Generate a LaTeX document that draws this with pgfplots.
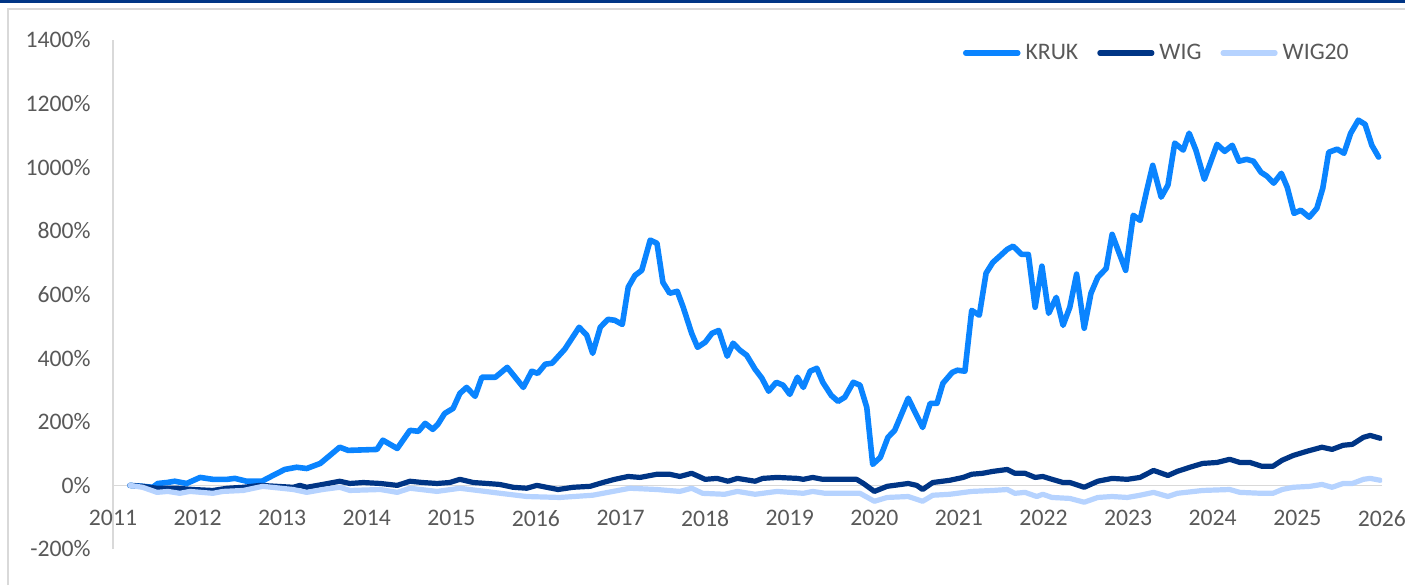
\documentclass[border=0pt]{standalone}
\usepackage{pgfplots}
\pgfplotsset{compat=1.18}
\usepackage{fontspec}
\setmainfont{Carlito}
\definecolor{kruk}{HTML}{0A84FF}
\definecolor{wig}{HTML}{003585}
\definecolor{wigtw}{HTML}{B6D3FF}
\definecolor{txt}{HTML}{595959}
\definecolor{axgray}{HTML}{D9D9D9}
\newcommand\chartfont{\fontsize{11.85pt}{14pt}\selectfont}

\begin{document}
\begin{tikzpicture}
\useasboundingbox (0,0) rectangle (702.5pt,292.5pt);
% frame: navy strip on top, light grey border
\fill[wig] (0,291.2pt) rectangle (702.5pt,292.5pt);
\draw[axgray, line width=0.9pt] (4pt,0) -- (4pt,288pt) -- (702.5pt,288pt);
\begin{axis}[
    at={(56.5pt,18pt)}, anchor=south west,
    scale only axis, width=634.5pt, height=254.5pt,
    xmin=2011, xmax=2026, ymin=-200, ymax=1400,
    axis y line=left, axis x line=middle,
    axis line style={-, draw=axgray, line width=0.8pt},
    hide obscured x ticks=false, hide obscured y ticks=false,
    major tick length=0pt,
    scaled ticks=false,
    xtick={2011,...,2026},
    ytick={-200,0,...,1400},
    yticklabels={-200\%,0\%,200\%,400\%,600\%,800\%,1000\%,1200\%,1400\%},
    /pgf/number format/assume math mode=true,
    xticklabel style={/pgf/number format/1000 sep={}, anchor=north, inner sep=0pt, yshift=-12.25pt},
    yticklabel style={anchor=east, inner sep=0pt, xshift=-11pt},
    every tick label/.append style={font=\chartfont, text=txt},
    legend style={at={(axis description cs:0.6698,0.9745)}, anchor=west,
        draw=none, fill=none, inner sep=0pt, outer sep=0pt,
        font=\chartfont, text=txt, legend columns=3,
        nodes={inner sep=0pt},
        /tikz/every odd column/.style={column sep=2.5pt},
        /tikz/every even column/.style={column sep=9.5pt}},
    legend image code/.code={\draw[#1, line cap=round] (0pt,0pt) -- (26pt,0pt);},
    every axis plot/.append style={line join=round, line cap=round},
]
% KRUK
\addplot[color=kruk, line width=2.8pt] coordinates {
(2011.20,0)(2011.35,-3)(2011.47,-6)(2011.53,6)(2011.64,9)(2011.73,13)(2011.87,6)(2012.03,25)
(2012.18,19)(2012.35,19)(2012.44,22)(2012.58,13)(2012.76,13)(2012.89,31)(2013.03,50)(2013.17,57)
(2013.29,53)(2013.45,69)(2013.68,120)(2013.78,110)(2014.12,113)(2014.19,142)(2014.36,116)(2014.51,173)
(2014.61,170)(2014.69,195)(2014.78,176)(2014.84,192)(2014.92,226)(2015.02,242)(2015.10,289)(2015.18,308)
(2015.28,280)(2015.36,340)(2015.52,340)(2015.66,371)(2015.85,308)(2015.95,359)(2016.02,352)(2016.11,381)
(2016.19,384)(2016.34,428)(2016.51,497)(2016.60,472)(2016.67,415)(2016.76,497)(2016.85,522)(2016.93,519)
(2017.02,506)(2017.09,623)(2017.17,660)(2017.25,676)(2017.35,771)(2017.43,761)(2017.50,638)(2017.58,604)
(2017.67,610)(2017.74,560)(2017.84,478)(2017.91,434)(2018.00,450)(2018.08,478)(2018.16,487)(2018.26,406)
(2018.33,447)(2018.41,425)(2018.49,409)(2018.59,365)(2018.67,337)(2018.75,296)(2018.84,324)(2018.92,315)
(2019.00,286)(2019.09,340)(2019.16,308)(2019.24,359)(2019.32,368)(2019.39,324)(2019.49,283)(2019.57,264)
(2019.65,277)(2019.75,324)(2019.83,315)(2019.91,245)(2019.98,66)(2020.07,88)(2020.16,151)(2020.24,173)
(2020.40,274)(2020.48,230)(2020.57,182)(2020.66,258)(2020.74,258)(2020.81,321)(2020.92,355)(2020.98,362)
(2021.07,359)(2021.15,550)(2021.24,535)(2021.32,667)(2021.40,701)(2021.48,720)(2021.57,742)(2021.64,752)
(2021.74,726)(2021.82,726)(2021.90,560)(2021.98,689)(2022.06,541)(2022.15,591)(2022.23,503)(2022.31,560)
(2022.39,664)(2022.48,494)(2022.56,604)(2022.64,654)(2022.74,682)(2022.81,789)(2022.97,676)(2023.06,849)
(2023.14,833)(2023.22,928)(2023.29,1006)(2023.39,906)(2023.47,944)(2023.55,1076)(2023.65,1054)(2023.72,1107)
(2023.80,1054)(2023.90,962)(2023.97,1013)(2024.05,1072)(2024.14,1050)(2024.23,1069)(2024.31,1019)(2024.40,1025)
(2024.48,1019)(2024.57,984)(2024.64,972)(2024.72,950)(2024.81,981)(2024.88,937)(2024.96,855)(2025.04,865)
(2025.14,843)(2025.23,871)(2025.30,934)(2025.37,1047)(2025.47,1057)(2025.55,1044)(2025.63,1107)(2025.72,1148)
(2025.80,1135)(2025.88,1069)(2025.96,1032)
};
\addlegendentry{KRUK}
% WIG
\addplot[color=wig, line width=2.6pt] coordinates {
(2011.20,0)(2011.35,-3)(2011.52,-9)(2011.76,-9)(2011.95,-13)(2012.18,-16)(2012.35,-9)(2012.54,-6)
(2012.74,0)(2012.94,-3)(2013.13,-6)(2013.21,0)(2013.29,-6)(2013.48,3)(2013.68,13)(2013.80,6)
(2013.96,9)(2014.16,6)(2014.36,0)(2014.51,13)(2014.66,9)(2014.83,6)(2014.98,9)(2015.10,19)
(2015.26,9)(2015.42,6)(2015.57,3)(2015.73,-6)(2015.89,-9)(2016.01,0)(2016.26,-13)(2016.44,-6)
(2016.64,-3)(2016.79,9)(2016.93,19)(2017.09,28)(2017.23,25)(2017.43,35)(2017.58,35)(2017.70,28)
(2017.84,38)(2018.00,19)(2018.14,22)(2018.27,13)(2018.38,22)(2018.59,13)(2018.68,22)(2018.85,25)
(2019.09,22)(2019.16,19)(2019.27,25)(2019.39,19)(2019.79,19)(2019.87,6)(2020.00,-19)(2020.15,-3)
(2020.40,6)(2020.50,0)(2020.57,-13)(2020.69,9)(2020.89,16)(2021.05,25)(2021.15,35)(2021.28,38)
(2021.40,44)(2021.57,50)(2021.66,38)(2021.78,38)(2021.90,25)(2021.99,28)(2022.10,19)(2022.23,9)
(2022.31,9)(2022.48,-6)(2022.64,13)(2022.81,22)(2022.99,19)(2023.14,25)(2023.30,47)(2023.47,31)
(2023.58,44)(2023.73,57)(2023.88,69)(2024.05,72)(2024.20,82)(2024.32,72)(2024.44,72)(2024.58,60)
(2024.71,60)(2024.82,79)(2024.95,94)(2025.11,107)(2025.29,120)(2025.41,113)(2025.54,126)(2025.65,129)
(2025.78,151)(2025.86,157)(2025.98,148)
};
\addlegendentry{WIG}
% WIG20
\addplot[color=wigtw, line width=2.6pt] coordinates {
(2011.20,0)(2011.35,-6)(2011.52,-22)(2011.65,-19)(2011.79,-25)(2011.91,-19)(2012.18,-25)(2012.30,-19)
(2012.54,-16)(2012.77,-3)(2013.13,-13)(2013.29,-22)(2013.48,-13)(2013.68,-6)(2013.80,-16)(2014.16,-13)
(2014.36,-22)(2014.51,-9)(2014.83,-19)(2015.10,-9)(2015.49,-22)(2015.89,-35)(2016.28,-38)(2016.67,-31)
(2017.11,-9)(2017.43,-13)(2017.70,-19)(2017.84,-9)(2017.97,-25)(2018.23,-28)(2018.38,-19)(2018.59,-28)
(2018.85,-19)(2019.16,-25)(2019.27,-19)(2019.42,-25)(2019.83,-25)(2020.00,-50)(2020.15,-38)(2020.40,-35)
(2020.57,-50)(2020.69,-31)(2020.89,-28)(2021.15,-19)(2021.40,-16)(2021.57,-13)(2021.66,-25)(2021.78,-22)
(2021.92,-35)(2021.99,-28)(2022.10,-38)(2022.31,-41)(2022.48,-53)(2022.64,-38)(2022.81,-35)(2022.99,-38)
(2023.14,-31)(2023.30,-22)(2023.47,-35)(2023.58,-25)(2023.88,-16)(2024.20,-13)(2024.32,-22)(2024.58,-25)
(2024.71,-25)(2024.82,-13)(2024.95,-6)(2025.15,-3)(2025.29,3)(2025.41,-6)(2025.54,6)(2025.65,6)
(2025.78,19)(2025.86,22)(2025.98,16)
};
\addlegendentry{WIG20}
\end{axis}
\end{tikzpicture}
\end{document}
